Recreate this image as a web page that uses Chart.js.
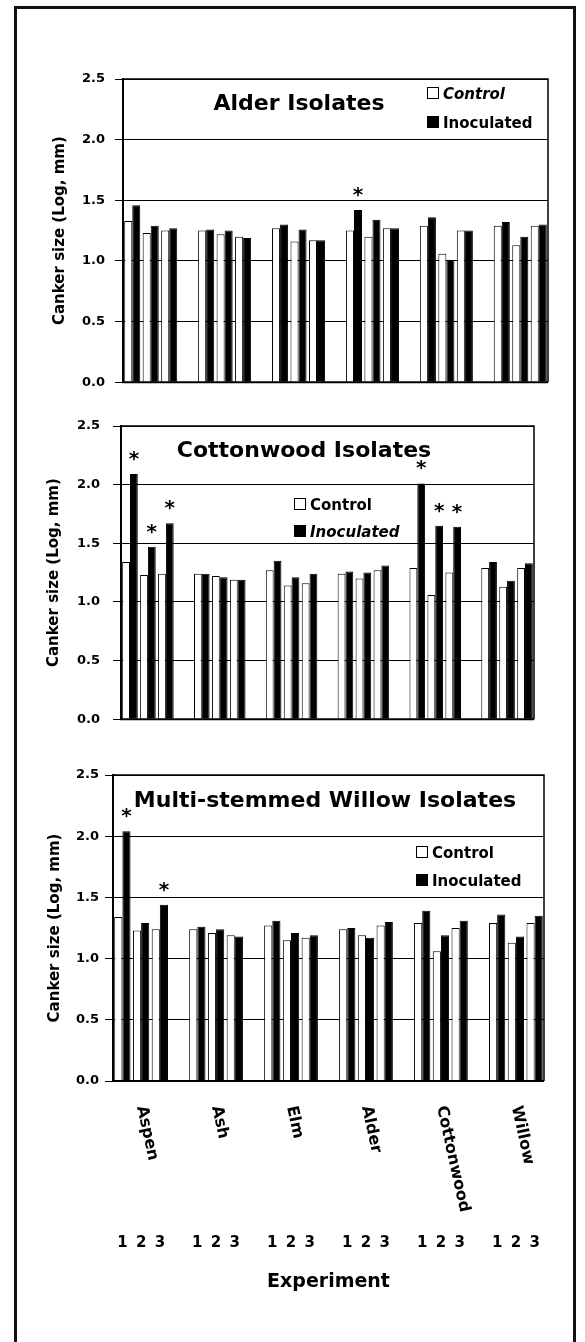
<!DOCTYPE html>
<html lang="en">
<head>
<meta charset="UTF-8">
<title>Canker size by isolate</title>
<script src="https://cdn.jsdelivr.net/npm/chart.js"></script>
<style>
  body { margin: 0; background: #fff; }
  #wrap { position: relative; width: 585px; height: 1342px; overflow: hidden; }
  #frame { position: absolute; left: 14px; top: 6px; width: 556px; height: 1400px; border: 3px solid #111; }
  canvas { position: absolute; left: 0; }
</style>
</head>
<body>
<div id="wrap">
  <div id="frame"></div>
  <canvas id="alder" width="585" height="400" style="top:0"></canvas>
  <canvas id="cotton" width="585" height="340" style="top:400px"></canvas>
  <canvas id="willow" width="585" height="602" style="top:740px"></canvas>
</div>
<script>
// host trees and experiment numbers
const trees = ['Aspen', 'Ash', 'Elm', 'Alder', 'Cottonwood', 'Willow'];
const experiments = ['1', '2', '3'];
const seriesNames = ['Control', 'Inoculated'];

// values in tree order, 3 experiments each (log mm)
const alderControl  = [1.33, 1.23, 1.25, 1.25, 1.22, 1.20, 1.27, 1.16, 1.17, 1.25, 1.20, 1.27, 1.29, 1.06, 1.25, 1.29, 1.13, 1.29];
const alderInoc     = [1.46, 1.29, 1.27, 1.26, 1.25, 1.19, 1.30, 1.26, 1.17, 1.42, 1.34, 1.27, 1.36, 1.01, 1.25, 1.32, 1.20, 1.30];
const alderSig      = [9];

const cottonControl = [1.34, 1.23, 1.24, 1.24, 1.22, 1.19, 1.27, 1.14, 1.16, 1.24, 1.20, 1.27, 1.29, 1.06, 1.25, 1.29, 1.13, 1.29];
const cottonInoc    = [2.09, 1.47, 1.67, 1.24, 1.21, 1.19, 1.35, 1.21, 1.24, 1.26, 1.25, 1.31, 2.01, 1.65, 1.64, 1.34, 1.18, 1.33];
const cottonSig     = [0, 1, 2, 12, 13, 14];

const willowControl = [1.34, 1.23, 1.24, 1.24, 1.21, 1.19, 1.27, 1.15, 1.17, 1.24, 1.19, 1.27, 1.29, 1.06, 1.25, 1.29, 1.13, 1.29];
const willowInoc    = [2.04, 1.29, 1.44, 1.26, 1.24, 1.18, 1.31, 1.21, 1.19, 1.25, 1.17, 1.30, 1.39, 1.19, 1.31, 1.36, 1.18, 1.35];
const willowSig     = [0, 2];

Chart.defaults.font.family = "'DejaVu Sans', sans-serif";
Chart.defaults.font.weight = 'bold';
Chart.defaults.color = '#000';

// one empty slot between tree groups
function toSlots(vals) {
  const out = [];
  trees.forEach((t, i) => {
    if (i > 0) out.push(null);
    experiments.forEach((e, j) => out.push(vals[i * 3 + j]));
  });
  return out;
}
const slotIndex = k => Math.floor(k / 3) * 4 + (k % 3);
const slotLabels = toSlots(trees.flatMap(() => experiments)).map(v => v === null ? '' : v);

const deco = {
  id: 'deco',
  afterDraw(chart, args, o) {
    const ctx = chart.ctx;
    const a = chart.chartArea;
    ctx.save();
    // box around the plot
    ctx.strokeStyle = '#000';
    ctx.lineWidth = 1.5;
    ctx.beginPath();
    ctx.moveTo(a.left, a.top);
    ctx.lineTo(a.right, a.top);
    ctx.lineTo(a.right, a.bottom);
    ctx.stroke();
    ctx.lineWidth = 2;
    ctx.beginPath();
    ctx.moveTo(a.left - 1, a.bottom);
    ctx.lineTo(a.right, a.bottom);
    ctx.stroke();

    // significance stars
    const meta = chart.getDatasetMeta(1);
    ctx.fillStyle = '#000';
    ctx.textAlign = 'center';
    ctx.textBaseline = 'alphabetic';
    ctx.font = "bold 20px 'DejaVu Sans'";
    o.sig.forEach(k => {
      const el = meta.data[slotIndex(k)];
      ctx.fillText('*', el.x, el.y - 9);
    });

    // panel title
    ctx.font = "bold 22px 'DejaVu Sans'";
    ctx.fillText(o.title, o.titleX, o.titleY);

    // legend
    ctx.textAlign = 'left';
    chart.data.datasets.forEach((ds, i) => {
      const y = o.legY + i * o.legGap;
      ctx.fillStyle = ds.backgroundColor;
      ctx.fillRect(o.legX, y - 6, 12, 12);
      ctx.strokeStyle = '#000';
      ctx.lineWidth = 1;
      ctx.strokeRect(o.legX + 0.5, y - 5.5, 11, 11);
      ctx.fillStyle = '#000';
      ctx.font = (o.italic[i] ? 'italic ' : '') + "bold 15px 'DejaVu Sans'";
      ctx.fillText(ds.label, o.legX + 16, y + 5.5);
    });

    // host tree names under the bottom panel
    if (o.treeNames) {
      const xs = chart.scales.x;
      ctx.font = "bold 16px 'DejaVu Sans'";
      ctx.textBaseline = 'middle';
      trees.forEach((t, i) => {
        ctx.save();
        ctx.translate(xs.getPixelForValue(i * 4 + 1), a.bottom + 25);
        ctx.rotate(77.5 * Math.PI / 180);
        ctx.fillText(t, 0, 0);
        ctx.restore();
      });
    }
    ctx.restore();
  }
};

function makePanel(id, control, inoc, o) {
  const ctx = document.getElementById(id).getContext('2d');
  // bottom panel: experiment numbers pushed down by an invisible tick mark
  const xAxis = o.bottom ? {
    display: true,
    ticks: { padding: 3, autoSkip: false, maxRotation: 0, font: { size: 15, weight: 'bold' } },
    grid: { display: true, drawOnChartArea: false, drawTicks: true, tickLength: 150, tickColor: 'rgba(0,0,0,0)' },
    border: { display: false },
    title: { display: true, text: 'Experiment', font: { size: 19, weight: 'bold' }, padding: { top: 0, bottom: 4 } },
    afterFit: s => { s.height = 216; }
  } : { display: false };

  return new Chart(ctx, {
    type: 'bar',
    data: {
      labels: slotLabels,
      datasets: [
        { label: seriesNames[0], data: toSlots(control), backgroundColor: '#fff', borderColor: '#000', borderWidth: 1 },
        { label: seriesNames[1], data: toSlots(inoc), backgroundColor: '#000', borderColor: '#000', borderWidth: 1 }
      ]
    },
    options: {
      responsive: false,
      animation: false,
      devicePixelRatio: 1,
      categoryPercentage: 0.87,
      barPercentage: 1,
      layout: { padding: o.padding },
      plugins: {
        legend: { display: false },
        tooltip: { enabled: false },
        deco: o.deco
      },
      scales: {
        x: xAxis,
        y: {
          min: 0,
          max: 2.5,
          ticks: { stepSize: 0.5, padding: o.tickPad, font: { size: 13, weight: 'bold' }, callback: v => v.toFixed(1) },
          grid: { color: '#000', lineWidth: 1, tickLength: 8 },
          border: { color: '#000', width: 2 },
          title: { display: true, text: 'Canker size (Log, mm)', font: { size: 15, weight: 'bold' }, padding: { top: o.titlePad, bottom: 0 } },
          afterFit: s => { s.width = o.yWidth; }
        }
      }
    },
    plugins: [deco]
  });
}

makePanel('alder', alderControl, alderInoc, {
  padding: { left: 40, right: 37, top: 79, bottom: 15 },
  yWidth: 83, tickPad: 10, titlePad: 11,
  deco: { title: 'Alder Isolates', titleX: 299, titleY: 110, legX: 427, legY: 93, legGap: 29, italic: [true, false], sig: alderSig }
});

makePanel('cotton', cottonControl, cottonInoc, {
  padding: { left: 40, right: 51, top: 26, bottom: 7 },
  yWidth: 81, tickPad: 13, titlePad: 5,
  deco: { title: 'Cottonwood Isolates', titleX: 304, titleY: 57, legX: 294, legY: 104, legGap: 27, italic: [false, true], sig: cottonSig }
});

makePanel('willow', willowControl, willowInoc, {
  bottom: true,
  padding: { left: 40, right: 41, top: 35, bottom: 45 },
  yWidth: 73, tickPad: 6, titlePad: 6,
  deco: { title: 'Multi-stemmed Willow Isolates', titleX: 325, titleY: 67, legX: 416, legY: 112, legGap: 28, italic: [false, false], sig: willowSig, treeNames: true }
});
</script>
</body>
</html>
